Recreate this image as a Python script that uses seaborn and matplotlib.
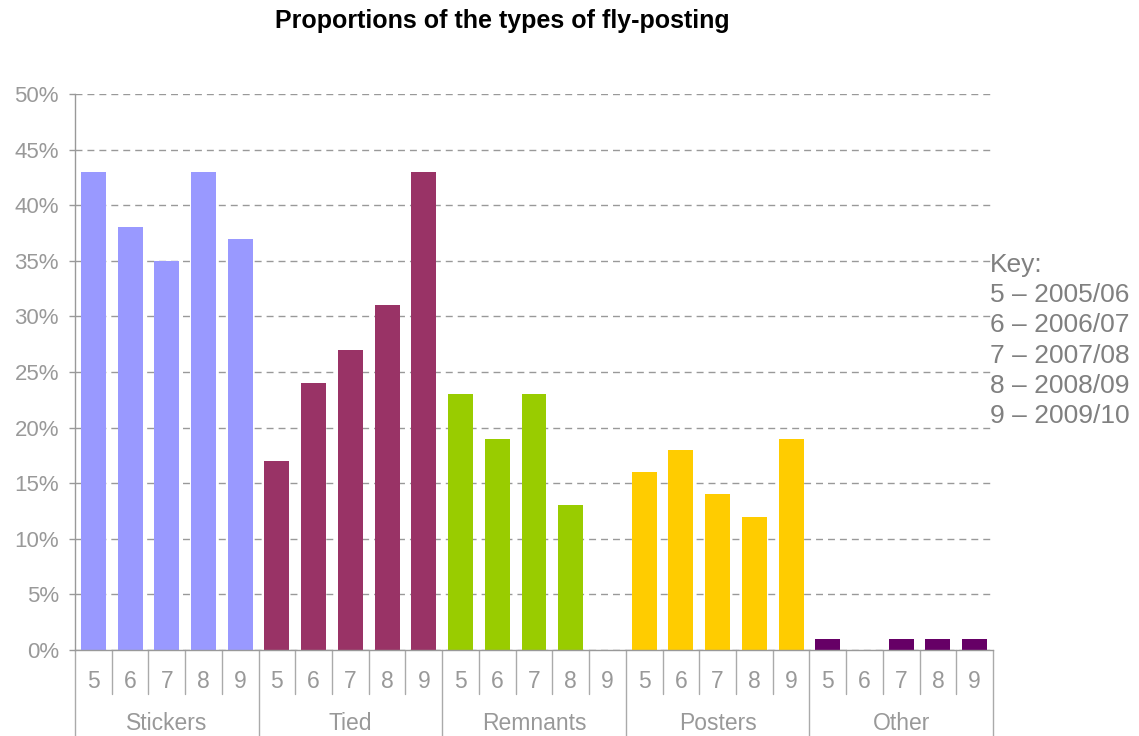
import seaborn as sns
import numpy as np
import pandas as pd
import matplotlib.pyplot as plt
from matplotlib.ticker import PercentFormatter

# data
groups = ["Stickers", "Tied", "Remnants", "Posters", "Other"]
year_codes = ["5", "6", "7", "8", "9"]
seasons = ["2005/06", "2006/07", "2007/08", "2008/09", "2009/10"]
stickers = [43, 38, 35, 43, 37]
tied = [17, 24, 27, 31, 43]
remnants = [23, 19, 23, 13, 0]
posters = [16, 18, 14, 12, 19]
other = [1, 0, 1, 1, 1]
colors = ["#9999FF", "#993366", "#99CC00", "#FFCC00", "#660066"]

rows = []
for g, vals in zip(groups, [stickers, tied, remnants, posters, other]):
    for y, v in zip(year_codes, vals):
        rows.append({"group": g, "year": y, "slot": g + " " + y, "share": v / 100})
df = pd.DataFrame(rows)

sns.set_style("white")
plt.rcParams["font.family"] = ["Liberation Sans", "DejaVu Sans"]
grey = "#999999"

fig = plt.figure(figsize=(11.39, 7.36), dpi=100)
ax = fig.add_axes([75 / 1139, 86 / 736, (993 - 75) / 1139, 556 / 736])

sns.barplot(data=df, x="slot", y="share", hue="group", palette=colors,
            dodge=False, width=0.68, legend=False, ax=ax, saturation=1,
            linewidth=0)

n = len(df)
ax.set_xlim(-0.5, n - 0.5)
ax.set_ylim(0, 0.5)
ax.set_yticks(np.arange(0, 0.51, 0.05))
ax.yaxis.set_major_formatter(PercentFormatter(1.0, decimals=0))
ax.yaxis.grid(True, color="#999999", linewidth=1.0, linestyle=(0, (5, 3.6)))
ax.set_axisbelow(True)
ax.tick_params(axis="y", length=4.5, width=1, color=grey, labelcolor=grey,
               labelsize=16, pad=7, left=True)
ax.set_xticks([])
ax.set_xlabel("")
ax.set_ylabel("")
for side in ["top", "right"]:
    ax.spines[side].set_visible(False)
ax.spines["left"].set_color(grey)
ax.spines["bottom"].set_color(grey)
ax.spines["left"].set_linewidth(1)
ax.spines["bottom"].set_linewidth(1)

# two-level category axis
tr = ax.get_xaxis_transform()
for i in range(n + 1):
    bottom = -0.155 if i % 5 == 0 else -0.079
    ax.plot([i - 0.5, i - 0.5], [0, bottom], color="#aaaaaa", lw=1,
            transform=tr, clip_on=False)
for i, code in enumerate(df["year"]):
    ax.text(i, -0.057, code, transform=tr, ha="center", va="center",
            color=grey, fontsize=16.5)
for k, g in enumerate(groups):
    ax.text(k * 5 + 2, -0.133, g, transform=tr, ha="center", va="center",
            color=grey, fontsize=16.5)

fig.text(502 / 1139, 1 - 21 / 736, "Proportions of the types of fly-posting",
         ha="center", va="center", fontsize=18, fontweight="bold", color="black")

key_lines = ["Key:"] + [c + " \u2013 " + s for c, s in zip(year_codes, seasons)]
for j, line in enumerate(key_lines):
    fig.text(990 / 1139, 1 - (265 + 30.2 * j) / 736, line, ha="left",
             va="center", fontsize=19, color="#808080")

plt.savefig("out.png", dpi=100)
